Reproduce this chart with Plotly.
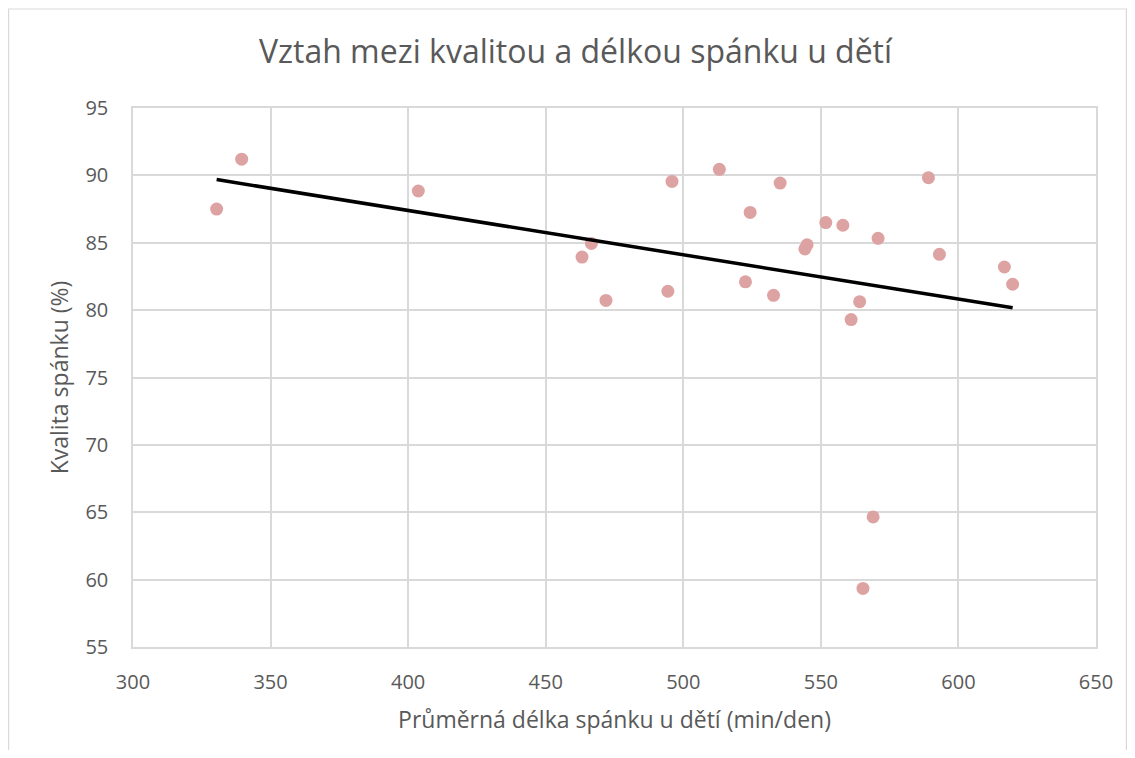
import numpy as np
import plotly.graph_objects as go

title_text = "Vztah mezi kvalitou a délkou spánku u dětí"
x_title = "Průměrná délka spánku u dětí (min/den)"
y_title = "Kvalita spánku (%)"

sleep_minutes = [330.4, 339.5, 403.7, 463.2, 466.6, 471.9, 494.4, 495.9, 513.1,
                 522.6, 524.3, 532.8, 535.2, 544.2, 545.0, 551.8, 558.0, 561.0,
                 564.1, 565.3, 569.0, 570.8, 589.1, 593.1, 616.7, 619.7]
sleep_quality = [87.5, 91.2, 88.84, 83.94, 84.95, 80.72, 81.4, 89.55, 90.45,
                 82.1, 87.25, 81.1, 89.43, 84.54, 84.85, 86.5, 86.3, 79.3,
                 80.63, 59.35, 64.65, 85.33, 89.83, 84.14, 83.2, 81.92]

x_ticks = [300, 350, 400, 450, 500, 550, 600, 650]
y_ticks = [55, 60, 65, 70, 75, 80, 85, 90, 95]

xs = np.array(sleep_minutes)
ys = np.array(sleep_quality)
slope, intercept = np.polyfit(xs, ys, 1)
trend_x = [xs.min(), xs.max()]
trend_y = [slope * v + intercept for v in trend_x]

fig = go.Figure()
fig.add_trace(go.Scatter(
    x=sleep_minutes, y=sleep_quality, mode="markers",
    marker=dict(color="#dda3a2", size=13, line=dict(width=0)),
    showlegend=False, hoverinfo="x+y"))
fig.add_trace(go.Scatter(
    x=trend_x, y=trend_y, mode="lines",
    line=dict(color="#000000", width=3.5),
    showlegend=False, hoverinfo="skip"))

W, H = 1119, 742
L, R, T, B = 125, 31, 100, 103
pw, ph = W - L - R, H - T - B

font_family = "Open Sans, Liberation Sans, sans-serif"
fig.update_layout(
    width=W, height=H,
    paper_bgcolor="white", plot_bgcolor="white",
    margin=dict(l=L, r=R, t=T, b=B),
    title=dict(text=title_text, x=(567.5 - L) / pw, xref="paper", xanchor="center",
               y=1 - 44 / H, yref="container", yanchor="middle",
               font=dict(family=font_family, size=32, color="#595959")),
    font=dict(family=font_family, color="#595959"),
    xaxis=dict(range=[300, 650], tickvals=x_ticks, showgrid=True,
               gridcolor="#d9d9d9", gridwidth=1.5, zeroline=False,
               showline=True, linecolor="#d9d9d9", linewidth=1.5, mirror=True,
               ticks="", ticklabelstandoff=16,
               tickfont=dict(size=20, color="#595959"),
               title=dict(text=x_title, font=dict(size=23, color="#595959"), standoff=18)),
    yaxis=dict(range=[55, 95], tickvals=y_ticks, showgrid=True,
               gridcolor="#d9d9d9", gridwidth=1.5, zeroline=False,
               showline=True, linecolor="#d9d9d9", linewidth=1.5, mirror=True,
               ticks="", ticklabelstandoff=19,
               tickfont=dict(size=20, color="#595959"),
               title=dict(text=y_title, font=dict(size=23, color="#595959"), standoff=10)),
    shapes=[dict(type="rect", xref="paper", yref="paper",
                 x0=(0.6 - L) / pw, x1=(W - 0.6 - L) / pw,
                 y0=(B - H + 0.6) / ph, y1=(H - B - 1) / ph,
                 line=dict(color="#d9d9d9", width=1.2), layer="below")],
)

fig.write_html("out.html")
